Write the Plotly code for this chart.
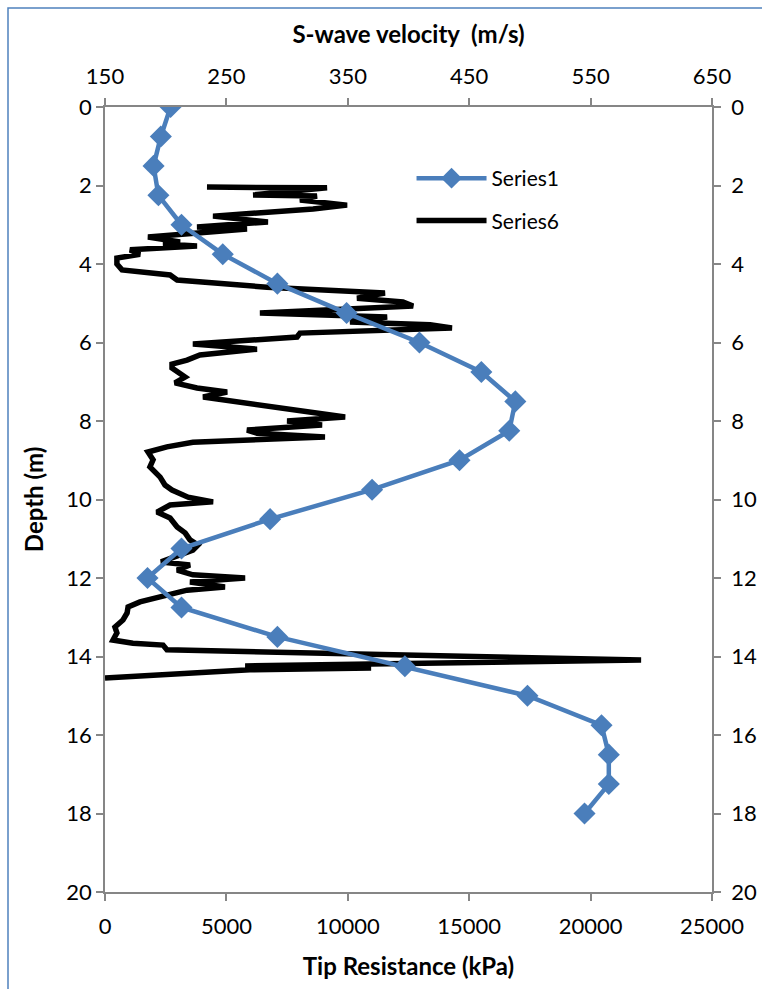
import plotly.graph_objects as go

# Series1: S-wave velocity (m/s) vs depth (m)
vs_depth = [0, 0.75, 1.5, 2.25, 3, 3.75, 4.5, 5.25, 6, 6.75, 7.5, 8.25, 9, 9.75,
            10.5, 11.25, 12, 12.75, 13.5, 14.25, 15, 15.75, 16.5, 17.25, 18]
vs_values = [204, 196, 190, 194, 213, 247, 292, 349, 409, 460, 488, 483, 442, 370,
             286, 213, 185, 213, 292, 397, 498, 559, 565, 565, 545]

# Series6: Tip resistance (kPa) vs depth (m)
qc_depth = [2.04, 2.06, 2.24, 2.27, 2.37, 2.50, 2.60, 2.78, 2.93, 3.06, 3.11, 3.31, 3.44,
            3.49, 3.54, 3.64, 3.75, 3.85, 4.00, 4.15, 4.28, 4.41, 4.59, 4.74, 4.87, 4.97,
            5.07, 5.25, 5.35, 5.48, 5.55, 5.63, 5.76, 5.86, 6.04, 6.17, 6.32, 6.45, 6.55,
            6.65, 6.88, 7.03, 7.16, 7.26, 7.39, 7.52, 7.64, 7.75, 7.90, 8.00, 8.10, 8.23,
            8.31, 8.41, 8.54, 8.66, 8.79, 8.99, 9.17, 9.43, 9.63, 9.76, 9.94, 10.06, 10.14,
            10.32, 10.47, 10.70, 10.85, 11.03, 11.16, 11.29, 11.41, 11.59, 11.67, 11.80,
            11.92, 12.00, 12.10, 12.23, 12.31, 12.43, 12.61, 12.74, 12.89, 13.07, 13.25,
            13.40, 13.58, 13.66, 13.71, 13.83, 14.09, 14.19, 14.24, 14.29, 14.34, 14.55]
qc_values = [4200, 9145, 6100, 8730, 8030, 9970, 8570, 4450, 6710, 3790, 5850, 1770, 3090,
             2390, 3790, 1030, 1440, 490, 490, 700, 2680, 2970, 6670, 11530, 10380, 12270,
             12690, 6380, 11620, 10090, 13390, 14290, 8030, 7910, 3620, 6260, 3910, 3380, 2760,
             2760, 3300, 2880, 3790, 5030, 4040, 5560, 7210, 8240, 9890, 7500, 8940, 5850,
             6260, 9060, 3620, 2550, 1770, 1980, 1850, 2270, 2470, 2760, 3420, 4450, 2680,
             2140, 2680, 2970, 3300, 3500, 3830, 3620, 3090, 2310, 3500, 2970,
             3620, 5770, 3500, 4940, 3380, 2550, 1440, 950, 910, 740, 410,
             490, 330, 1150, 2390, 2550, 22080, 10960, 5770, 10960, 5970, 0]

depth_ticks = list(range(0, 21, 2))
q_ticks = [0, 5000, 10000, 15000, 20000, 25000]
v_ticks = [150, 250, 350, 450, 550, 650]

FONT = "Lato"
GRAY = "#868686"
BLUE = "#4A7EBB"
TICK_SIZE = 22
TITLE_SIZE = 24

fig = go.Figure()
fig.add_trace(go.Scatter(
    x=vs_values, y=vs_depth, xaxis="x2", yaxis="y", name="Series1",
    mode="lines+markers", line=dict(color=BLUE, width=4.5),
    marker=dict(symbol="diamond", size=17, color=BLUE),
    legendgroup="a"))
fig.add_trace(go.Scatter(
    x=qc_values, y=qc_depth, xaxis="x", yaxis="y", name="Series6",
    mode="lines", line=dict(color="black", width=5.5),
    legendgroup="b"))
# invisible helper so that the right-hand depth axis is drawn
fig.add_trace(go.Scatter(x=[None], y=[None], xaxis="x", yaxis="y2",
                         showlegend=False, hoverinfo="skip"))

axis_common = dict(showgrid=False, zeroline=False, showline=True, linecolor=GRAY,
                   linewidth=1.5, ticks="outside", ticklen=7, tickcolor=GRAY,
                   tickwidth=1.5, automargin=False,
                   tickfont=dict(family=FONT, size=TICK_SIZE, color="black"))
title_font = dict(family=FONT, size=TITLE_SIZE, color="black")

fig.update_layout(
    width=762, height=989,
    margin=dict(l=105, r=50, t=107, b=97, autoexpand=False),
    paper_bgcolor="white", plot_bgcolor="white",
    showlegend=True,
    legend=dict(x=0.505, y=0.935, xanchor="left", yanchor="top",
                font=dict(family=FONT, size=21, color="black"),
                itemwidth=70, tracegroupgap=12, bgcolor="rgba(0,0,0,0)"),
    xaxis=dict(range=[0, 25000], tickvals=q_ticks, ticktext=[str(t) for t in q_ticks],
               side="bottom", anchor="y", ticklabelstandoff=7,
               title=dict(text="<b>Tip Resistance (kPa)</b>", font=title_font, standoff=20),
               **axis_common),
    xaxis2=dict(range=[150, 650], tickvals=v_ticks, side="top", overlaying="x", anchor="y",
                ticklabelstandoff=5,
                title=dict(text="<b>S-wave velocity  (m/s)</b>", font=title_font, standoff=12),
                **axis_common),
    yaxis=dict(range=[20, 0], tickvals=depth_ticks, side="left", anchor="x",
               title=dict(text="<b>Depth (m)</b>", font=title_font, standoff=16),
               **axis_common),
    yaxis2=dict(range=[20, 0], tickvals=depth_ticks, side="right", overlaying="y", anchor="x",
                ticklabelstandoff=6, **axis_common),
    shapes=[dict(type="rect", xref="paper", yref="paper",
                 x0=(8 - 105) / 607, x1=(800 - 105) / 607,
                 y0=1 + (107 - 1000) / 785, y1=1 + (107 - 8) / 785,
                 line=dict(color="#4F81BD", width=1.5), fillcolor="rgba(0,0,0,0)", layer="below")],
)

fig.write_html("out.html")
